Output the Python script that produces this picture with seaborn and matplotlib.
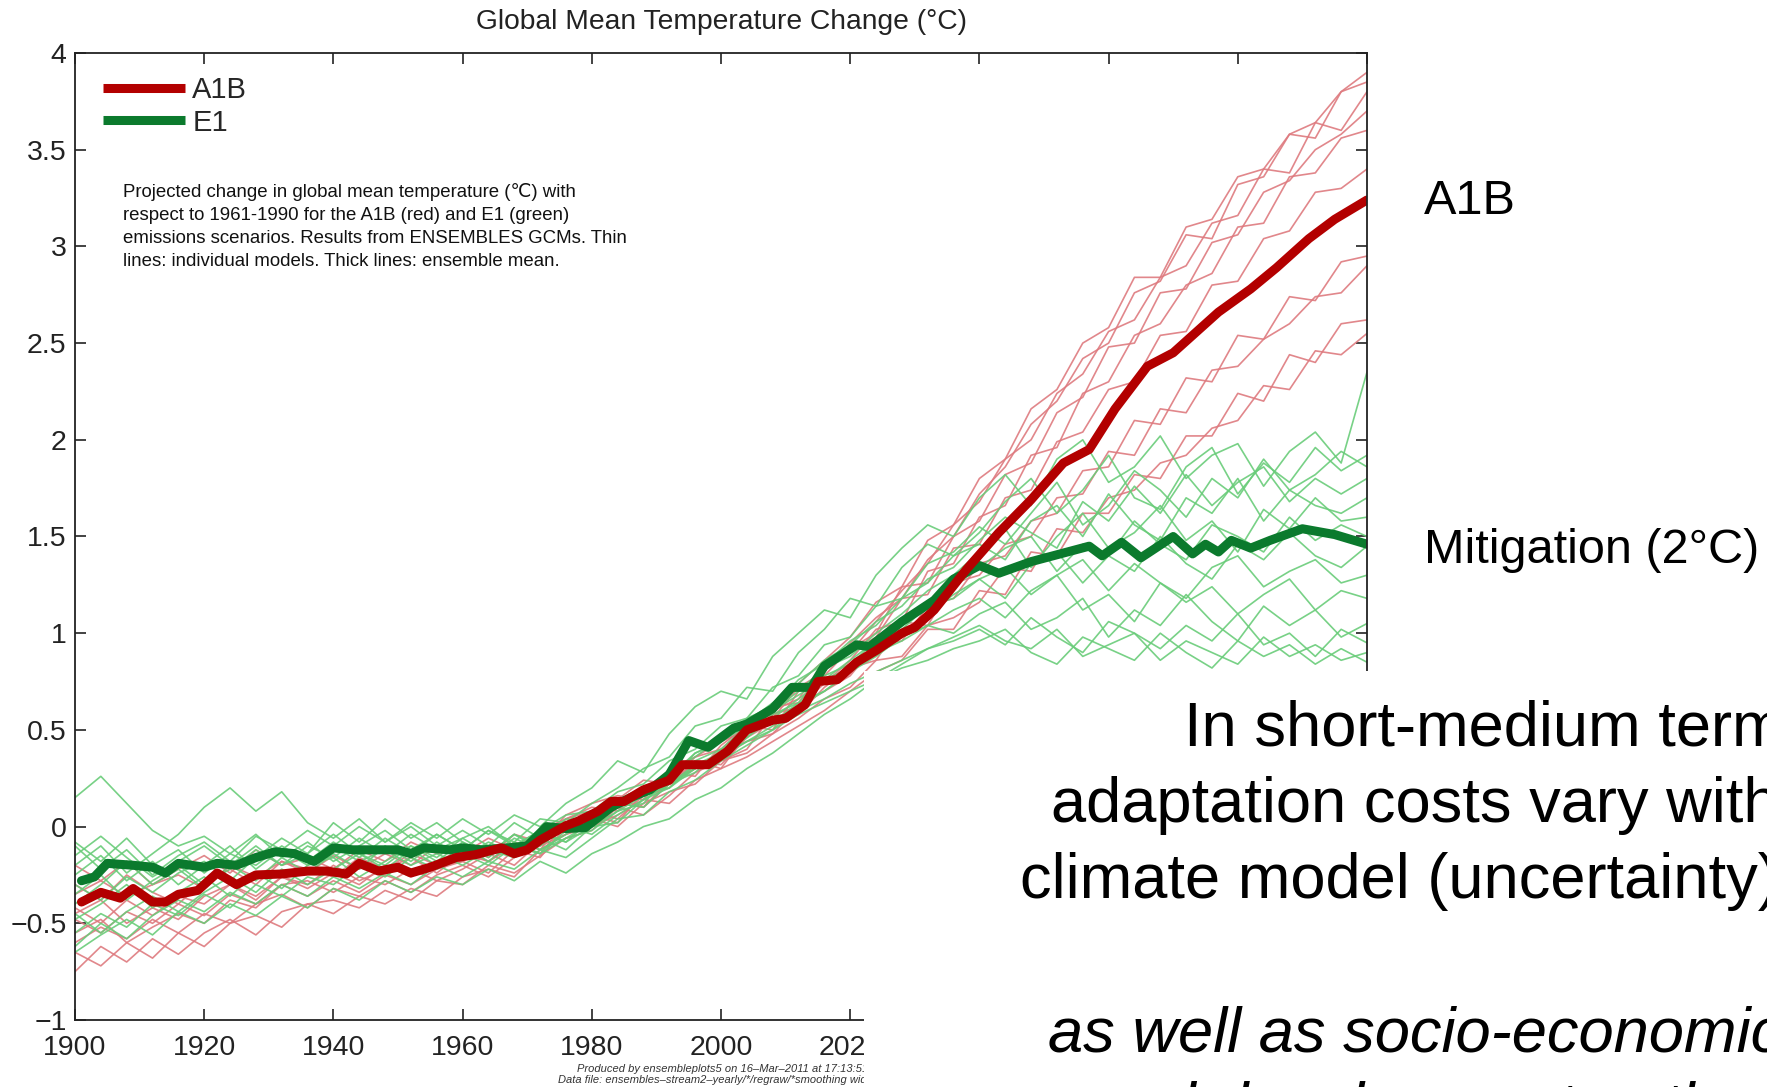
import numpy as np
import pandas as pd
import matplotlib
matplotlib.use("Agg")
import matplotlib.pyplot as plt
from matplotlib.patches import Rectangle
from matplotlib.lines import Line2D
import seaborn as sns

# ---------------- data ----------------
years_thin = list(range(1900, 2101, 4))  # 51 points

a1b_models = {
    "R1": [-0.75,-0.62,-0.70,-0.58,-0.66, -0.55,-0.48,-0.56,-0.44,-0.40, -0.45,-0.36,-0.40,-0.32,-0.36,
           -0.26,-0.22,-0.26,-0.12,-0.04, 0.02,0.12,0.10,0.24,0.30, 0.38,0.50,0.56,0.72,0.80,
           0.95,1.08,1.18,1.38,1.50, 1.72,1.86,2.08,2.20,2.42, 2.50,2.76,2.82,3.06,3.04,
           3.32,3.36,3.58,3.56,3.80, 3.90],
    "R2": [-0.55,-0.48,-0.60,-0.52,-0.45, -0.50,-0.38,-0.42,-0.30,-0.36, -0.28,-0.34,-0.25,-0.30,-0.22,
           -0.18,-0.24,-0.12,-0.16,0.00, 0.06,0.02,0.18,0.22,0.34, 0.30,0.48,0.60,0.66,0.84,
           0.90,1.06,1.22,1.36,1.56, 1.68,1.90,2.00,2.24,2.34, 2.56,2.62,2.84,2.90,3.12,
           3.16,3.40,3.38,3.64,3.60, 3.80],
    "R3": [-0.30,-0.38,-0.25,-0.34,-0.40, -0.28,-0.22,-0.30,-0.18,-0.24, -0.15,-0.22,-0.14,-0.20,-0.10,
           -0.14,-0.06,-0.12,-0.02,0.04, 0.10,0.08,0.20,0.28,0.26, 0.42,0.52,0.50,0.70,0.78,
           0.92,1.00,1.24,1.26,1.50, 1.58,1.82,1.88,2.14,2.22, 2.48,2.50,2.76,2.78,3.02,
           3.06,3.28,3.34,3.50,3.58, 3.70],
    "R4": [-0.65,-0.72,-0.60,-0.68,-0.55, -0.62,-0.50,-0.46,-0.52,-0.40, -0.38,-0.42,-0.33,-0.38,-0.28,
           -0.30,-0.20,-0.24,-0.15,-0.06, -0.02,0.10,0.06,0.16,0.28, 0.34,0.40,0.58,0.62,0.74,
           0.86,1.02,1.06,1.32,1.36, 1.60,1.66,1.92,1.96,2.24, 2.30,2.54,2.60,2.80,2.86,
           3.10,3.12,3.36,3.38,3.56, 3.60],
    "R5": [-0.20,-0.28,-0.18,-0.30,-0.22, -0.15,-0.24,-0.12,-0.20,-0.16, -0.22,-0.12,-0.18,-0.08,-0.14,
           -0.10,-0.16,-0.04,-0.08,0.06, 0.12,0.16,0.14,0.30,0.36, 0.44,0.50,0.62,0.64,0.82,
           0.90,0.98,1.18,1.20,1.44, 1.46,1.70,1.74,1.99,2.04, 2.26,2.30,2.54,2.56,2.80,
           2.82,3.04,3.08,3.28,3.30, 3.40],
    "R6": [-0.45,-0.38,-0.50,-0.42,-0.48, -0.36,-0.30,-0.38,-0.26,-0.32, -0.24,-0.30,-0.20,-0.26,-0.18,
           -0.12,-0.18,-0.10,-0.14,0.02, 0.04,0.14,0.10,0.22,0.30, 0.36,0.44,0.48,0.62,0.70,
           0.78,0.94,0.96,1.14,1.18, 1.36,1.40,1.58,1.62,1.84, 1.86,2.10,2.08,2.32,2.30,
           2.54,2.52,2.74,2.72,2.92, 2.95],
    "R7": [-0.35,-0.28,-0.36,-0.30,-0.25, -0.32,-0.20,-0.26,-0.18,-0.22, -0.26,-0.16,-0.22,-0.14,-0.20,
           -0.18,-0.10,-0.14,-0.06,0.00, 0.08,0.04,0.16,0.20,0.34, 0.32,0.46,0.54,0.58,0.72,
           0.82,0.86,1.06,1.04,1.26, 1.30,1.46,1.50,1.70,1.72, 1.94,1.92,2.16,2.14,2.36,
           2.38,2.52,2.60,2.74,2.76, 2.90],
    "R8": [-0.60,-0.52,-0.58,-0.48,-0.55, -0.45,-0.50,-0.40,-0.35,-0.42, -0.32,-0.36,-0.28,-0.34,-0.25,
           -0.20,-0.26,-0.16,-0.10,-0.04, 0.00,0.06,0.14,0.12,0.24, 0.30,0.36,0.44,0.52,0.60,
           0.70,0.80,0.86,1.02,1.02, 1.22,1.20,1.42,1.40,1.62, 1.62,1.82,1.80,2.02,2.02,
           2.24,2.20,2.44,2.40,2.60, 2.62],
    "R9": [-0.48,-0.55,-0.44,-0.50,-0.40, -0.46,-0.35,-0.40,-0.30,-0.28, -0.34,-0.26,-0.30,-0.22,-0.28,
           -0.22,-0.14,-0.20,-0.08,-0.02, 0.04,0.00,0.12,0.18,0.22, 0.34,0.38,0.48,0.56,0.66,
           0.72,0.86,0.88,1.04,1.08, 1.16,1.34,1.32,1.54,1.52, 1.70,1.74,1.88,1.92,2.06,
           2.10,2.28,2.26,2.46,2.44, 2.55],
    "R10": [-0.42,-0.50,-0.38,-0.46,-0.36, -0.40,-0.30,-0.36,-0.26,-0.30, -0.20,-0.28,-0.22,-0.16,-0.24,
            -0.14,-0.18,-0.08,-0.12,0.04, 0.08,0.14,0.24,0.22,0.36, 0.40,0.52,0.58,0.74,0.86,
            0.98,1.16,1.24,1.48,1.56, 1.80,1.90,2.16,2.26,2.50, 2.58,2.84,2.84,3.10,3.14,
            3.36,3.40,3.58,3.64,3.80, 3.85],
}

e1_models = {
    "G1": [-0.10,-0.22,-0.12,-0.25,-0.15, -0.08,-0.18,-0.05,-0.12,-0.02, -0.10,0.00,-0.08,0.02,-0.06,
           0.04,-0.04,0.06,0.00,0.12, 0.20,0.34,0.28,0.48,0.62, 0.70,0.66,0.88,1.00,1.12,
           1.08,1.30,1.44,1.56,1.50, 1.70,1.82,1.66,1.90,2.00, 1.78,1.86,2.02,1.80,1.92,
           1.98,1.76,1.94,2.04,1.88, 2.35],
    "G2": [0.15,0.26,0.12,-0.02,-0.10, -0.05,-0.14,-0.20,-0.10,-0.18, -0.08,-0.16,-0.06,-0.14,-0.04,
           -0.12,-0.02,-0.08,0.04,0.02, 0.12,0.20,0.30,0.36,0.52, 0.56,0.72,0.70,0.90,1.02,
           1.18,1.14,1.34,1.46,1.40, 1.52,1.68,1.80,1.62,1.74, 1.92,1.70,1.64,1.86,1.96,
           1.72,1.88,1.78,1.96,1.84, 1.92],
    "G3": [-0.35,-0.25,-0.38,-0.28,-0.20, -0.30,-0.22,-0.12,-0.20,-0.10, -0.16,-0.06,-0.14,-0.04,-0.12,
           -0.06,0.00,-0.10,-0.02,0.06, 0.08,0.18,0.22,0.34,0.40, 0.52,0.56,0.72,0.78,0.94,
           0.98,1.14,1.18,1.36,1.42, 1.55,1.46,1.62,1.78,1.56, 1.66,1.84,1.74,1.60,1.80,
           1.70,1.90,1.74,1.82,1.94, 1.86],
    "G4": [-0.55,-0.45,-0.52,-0.40,-0.46, -0.35,-0.42,-0.30,-0.36,-0.26, -0.30,-0.20,-0.26,-0.16,-0.22,
           -0.14,-0.20,-0.10,-0.14,-0.02, 0.04,0.10,0.20,0.24,0.38, 0.44,0.54,0.64,0.74,0.86,
           0.94,1.06,1.14,1.28,1.34, 1.48,1.60,1.52,1.44,1.68, 1.58,1.76,1.62,1.82,1.66,
           1.78,1.86,1.68,1.80,1.72, 1.80],
    "G5": [-0.20,-0.10,-0.24,-0.14,-0.04, 0.10,0.20,0.08,0.18,0.02, -0.06,0.04,-0.08,0.00,-0.10,
           -0.02,-0.10,0.02,-0.06,0.04, 0.02,0.14,0.16,0.28,0.36, 0.46,0.56,0.62,0.76,0.84,
           0.96,1.04,1.18,1.26,1.40, 1.46,1.38,1.58,1.66,1.50, 1.72,1.56,1.48,1.70,1.62,
           1.80,1.58,1.74,1.66,1.62, 1.70],
    "G6": [-0.40,-0.30,-0.18,-0.30,-0.22, -0.32,-0.20,-0.28,-0.16,-0.24, -0.14,-0.22,-0.10,-0.18,-0.08,
           -0.16,-0.08,-0.14,-0.04,-0.08, 0.00,0.08,0.12,0.26,0.34, 0.40,0.52,0.60,0.70,0.82,
           0.88,1.00,1.10,1.22,1.30, 1.42,1.54,1.34,1.50,1.62, 1.44,1.52,1.66,1.48,1.58,
           1.42,1.64,1.54,1.70,1.58, 1.60],
    "G7": [-0.30,-0.38,-0.26,-0.34,-0.24, -0.18,-0.28,-0.16,-0.06,-0.14, 0.02,-0.08,0.04,-0.06,0.02,
           -0.08,-0.14,-0.04,-0.10,0.00, -0.04,0.06,0.14,0.20,0.30, 0.38,0.46,0.56,0.66,0.76,
           0.86,0.96,1.06,1.16,1.24, 1.34,1.44,1.50,1.32,1.46, 1.40,1.58,1.46,1.38,1.56,
           1.50,1.42,1.60,1.48,1.56, 1.50],
    "G8": [-0.62,-0.50,-0.58,-0.46,-0.38, -0.44,-0.34,-0.40,-0.30,-0.36, -0.26,-0.32,-0.24,-0.30,-0.20,
           -0.26,-0.18,-0.22,-0.12,-0.16, -0.06,0.04,0.06,0.18,0.24, 0.34,0.42,0.50,0.62,0.70,
           0.80,0.90,1.00,1.10,1.20, 1.28,1.18,1.36,1.42,1.26, 1.40,1.32,1.50,1.36,1.28,
           1.46,1.38,1.52,1.40,1.34, 1.45],
    "G9": [-0.25,-0.15,-0.28,-0.18,-0.30, -0.20,-0.10,-0.22,-0.12,-0.20, -0.10,-0.18,-0.12,-0.20,-0.14,
           -0.20,-0.12,-0.16,-0.06,-0.12, 0.00,0.02,0.14,0.22,0.28, 0.40,0.46,0.58,0.64,0.78,
           0.84,0.96,1.02,1.14,1.18, 1.28,1.34,1.20,1.30,1.38, 1.22,1.36,1.26,1.18,1.34,
           1.40,1.24,1.32,1.38,1.26, 1.30],
    "G10": [-0.48,-0.40,-0.30,-0.42,-0.34, -0.26,-0.36,-0.24,-0.32,-0.20, -0.16,-0.26,-0.18,-0.10,-0.18,
            -0.08,-0.16,-0.06,-0.12,-0.04, 0.06,0.12,0.10,0.22,0.32, 0.36,0.48,0.54,0.64,0.70,
            0.80,0.88,0.98,1.04,1.12, 1.18,1.08,1.22,1.30,1.12, 1.20,1.06,1.26,1.16,1.24,
            1.10,1.20,1.28,1.12,1.22, 1.18],
    "G11": [-0.08,-0.18,-0.06,-0.20,-0.12, -0.24,-0.14,-0.04,-0.16,-0.08, -0.18,-0.10,-0.02,-0.12,-0.04,
            -0.12,-0.02,-0.10,-0.02,-0.08, 0.04,0.10,0.20,0.26,0.38, 0.44,0.52,0.60,0.68,0.76,
            0.82,0.90,0.96,1.04,1.00, 1.10,1.16,1.02,1.08,1.18, 0.98,1.12,1.04,1.20,1.06,
            0.96,1.14,1.04,1.12,0.98, 1.05],
    "G12": [-0.45,-0.55,-0.44,-0.36,-0.44, -0.34,-0.26,-0.34,-0.22,-0.30, -0.22,-0.14,-0.22,-0.12,-0.20,
            -0.10,-0.18,-0.08,-0.14,-0.06, -0.02,0.08,0.16,0.22,0.30, 0.36,0.44,0.52,0.60,0.66,
            0.74,0.80,0.86,0.92,0.96, 1.02,0.94,1.08,0.98,0.90, 1.06,1.00,0.92,1.04,0.96,
            1.10,0.94,1.00,0.88,1.02, 0.95],
    "G13": [-0.15,-0.05,-0.16,-0.26,-0.18, -0.10,-0.20,-0.10,-0.20,-0.14, -0.04,-0.14,-0.20,-0.10,-0.16,
            -0.06,-0.14,-0.04,-0.12,-0.06, 0.02,0.10,0.18,0.20,0.32, 0.38,0.44,0.50,0.58,0.64,
            0.70,0.76,0.82,0.86,0.92, 0.96,1.02,0.90,0.84,0.98, 0.92,0.86,1.00,0.90,0.82,
            0.96,0.88,0.94,0.84,0.92, 0.85],
    "G14": [-0.65,-0.56,-0.48,-0.56,-0.44, -0.50,-0.40,-0.46,-0.36,-0.42, -0.32,-0.38,-0.28,-0.34,-0.26,
            -0.30,-0.22,-0.28,-0.18,-0.24, -0.14,-0.08,0.00,0.04,0.14, 0.20,0.30,0.38,0.48,0.58,
            0.66,0.76,0.84,0.92,0.98, 1.04,0.96,0.92,1.02,0.88, 0.94,1.00,0.86,0.96,0.90,
            0.84,0.98,0.88,0.94,0.86, 0.90],
}

a1b_mean_years = [1901,1904,1907,1909,1912,1914,1916,1919,1922,1925,
                  1928,1932,1936,1939,1942,1944,1947,1950,1952,1955,
                  1959,1962,1966,1968,1970,1972,1976,1978,1981,1983,
                  1985,1988,1992,1994,1998,2001,2004,2008,2010,2013,
                  2015,2018,2021,2024,2028,2030,2033,2038,2043,2048,
                  2053,2057,2061,2066,2070,2077,2082,2086,2091,2095,
                  2100]
a1b_mean = [-0.39,-0.34,-0.37,-0.32,-0.39,-0.39,-0.35,-0.33,-0.24,-0.30,
            -0.25,-0.245,-0.23,-0.23,-0.245,-0.19,-0.23,-0.21,-0.24,-0.21,
            -0.16,-0.145,-0.11,-0.14,-0.12,-0.07,0.005,0.03,0.08,0.13,
            0.13,0.19,0.24,0.32,0.32,0.39,0.50,0.55,0.56,0.63,
            0.75,0.76,0.85,0.91,1.00,1.03,1.12,1.33,1.52,1.69,
            1.88,1.95,2.16,2.38,2.45,2.66,2.78,2.89,3.04,3.14,
            3.24]

e1_mean_years = [1901,1903,1905,1909,1912,1914,1916,1920,1922,1925,
                 1928,1931,1934,1937,1940,1943,1946,1950,1952,1954,
                 1958,1960,1963,1967,1970,1973,1976,1979,1983,1986,
                 1989,1992,1995,1998,2002,2004,2008,2011,2014,2016,
                 2021,2023,2028,2033,2036,2040,2043,2048,2057,2059,
                 2062,2065,2070,2073,2075,2077,2079,2082,2085,2090,
                 2095,2100]
e1_mean = [-0.28,-0.26,-0.19,-0.20,-0.21,-0.24,-0.19,-0.21,-0.19,-0.20,
           -0.16,-0.13,-0.14,-0.18,-0.11,-0.12,-0.12,-0.12,-0.14,-0.11,
           -0.12,-0.11,-0.12,-0.11,-0.10,0.00,-0.01,-0.005,0.10,0.15,
           0.19,0.27,0.445,0.41,0.51,0.53,0.61,0.72,0.72,0.83,
           0.94,0.93,1.06,1.17,1.28,1.35,1.31,1.37,1.45,1.40,
           1.47,1.39,1.50,1.41,1.46,1.42,1.48,1.44,1.48,1.54,
           1.51,1.46]

scenarios = ["A1B", "E1"]
xticks = [1900, 1920, 1940, 1960, 1980, 2000, 2020, 2040, 2060, 2080, 2100]
xtick_labels = ["1900", "1920", "1940", "1960", "1980", "2000", "2020", "", "", "", ""]
yticks = [-1, -0.5, 0, 0.5, 1, 1.5, 2, 2.5, 3, 3.5, 4]
ytick_labels = ["\u22121", "\u22120.5", "0", "0.5", "1", "1.5", "2", "2.5", "3", "3.5", "4"]

title = "Global Mean Temperature Change (\u00b0C)"
note = ("Projected change in global mean temperature (\u2103) with\n"
        "respect to 1961-1990 for the A1B (red) and E1 (green)\n"
        "emissions scenarios. Results from ENSEMBLES GCMs. Thin\n"
        "lines: individual models. Thick lines: ensemble mean.")
footer1 = "Produced by ensembleplots5 on 16\u2013Mar\u20132011 at 17:13:51"
footer2 = "Data file: ensembles\u2013stream2\u2013yearly/*/regraw/*smoothing width"
side_labels = ["A1B", "Mitigation (2\u00b0C)"]
slide_lines = ["In short-medium term", "adaptation costs vary with",
               "climate model (uncertainty)"]
slide_italic = ["as well as socio-economic", "and development pathways"]

# ---------------- build tables ----------------
rows = []
for name, vals in a1b_models.items():
    for y, v in zip(years_thin, vals):
        rows.append(("A1B", name, y, v))
for name, vals in e1_models.items():
    for y, v in zip(years_thin, vals):
        rows.append(("E1", name, y, v))
thin = pd.DataFrame(rows, columns=["scenario", "model", "year", "temp"])
mean_a1b = pd.DataFrame({"year": a1b_mean_years, "temp": a1b_mean})
mean_e1 = pd.DataFrame({"year": e1_mean_years, "temp": e1_mean})

# ---------------- style ----------------
sns.set_style("ticks")
plt.rcParams["font.family"] = ["Liberation Sans", "DejaVu Sans"]
plt.rcParams["axes.unicode_minus"] = True

W, H = 1767, 1087
fig = plt.figure(figsize=(W / 100, H / 100), dpi=100)
ax = fig.add_axes([75 / W, 1 - 1020 / H, (1367 - 75) / W, (1020 - 53) / H])

def fx(px):
    return px / W

def fy(py):
    return 1 - py / H

thin_red = "#de7a7f"
thin_green = "#69cc79"
thick_red = "#b30000"
thick_green = "#0b7a2d"

sns.lineplot(data=thin[thin.scenario == "A1B"], x="year", y="temp", units="model",
             estimator=None, color=thin_red, lw=1.2, alpha=0.9, ax=ax, legend=False)
sns.lineplot(data=thin[thin.scenario == "E1"], x="year", y="temp", units="model",
             estimator=None, color=thin_green, lw=1.2, alpha=0.9, ax=ax, legend=False)
sns.lineplot(data=mean_e1, x="year", y="temp", color=thick_green, lw=6.5, ax=ax,
             estimator=None, legend=False, solid_joinstyle="round")
sns.lineplot(data=mean_a1b, x="year", y="temp", color=thick_red, lw=6.5, ax=ax,
             estimator=None, legend=False, solid_joinstyle="round")

ax.set_xlim(1900, 2100)
ax.set_ylim(-1, 4)
ax.set_xticks(xticks)
ax.set_xticklabels(xtick_labels)
ax.set_yticks(yticks)
ax.set_yticklabels(ytick_labels)
ax.set_xlabel("")
ax.set_ylabel("")
ax.tick_params(direction="in", length=8, width=1.2, top=True, right=True,
               labelsize=20.5, colors="#222222", pad=6)
ax.tick_params(axis="x", pad=11)
for sp in ax.spines.values():
    sp.set_visible(True)
    sp.set_linewidth(1.3)
    sp.set_color("#222222")
ax.set_title(title, fontsize=20.3, pad=17, color="#222222")

handles = [Line2D([0], [0], color=thick_red, lw=6.5, solid_capstyle="butt"),
           Line2D([0], [0], color=thick_green, lw=6.5, solid_capstyle="butt")]
ax.legend(handles, scenarios, loc="upper left", bbox_to_anchor=(0.022, 0.976),
          frameon=False, fontsize=21, handlelength=2.8, handletextpad=0.25,
          labelspacing=0.15, borderpad=0, borderaxespad=0)

fig.text(fx(123), fy(183), note, fontsize=13.4, ha="left", va="top",
         linespacing=1.45, color="#111111")
fig.text(fx(868), fy(1072), footer1, fontsize=8, style="italic", ha="right",
         va="baseline", color="#333333")
fig.text(fx(876), fy(1083), footer2, fontsize=8, style="italic", ha="right",
         va="baseline", color="#333333")

# white slide panel covering the lower right
fig.add_artist(Rectangle((fx(864), 0), 1 - fx(864), fy(671), transform=fig.transFigure,
                         facecolor="white", edgecolor="none", zorder=10))

fig.text(fx(1424), fy(214), side_labels[0], fontsize=35, ha="left", va="baseline",
         color="black", zorder=11)
fig.text(fx(1424), fy(563), side_labels[1], fontsize=35, ha="left", va="baseline",
         color="black", zorder=11)

for txt, x0, y0 in zip(slide_lines, [1184, 1051, 1020], [746, 822, 898]):
    fig.text(fx(x0), fy(y0), txt, fontsize=45.5, ha="left", va="baseline",
             color="black", zorder=11)
for txt, x0, y0 in zip(slide_italic, [1048, 1090], [1051, 1127]):
    fig.text(fx(x0), fy(y0), txt, fontsize=45.5, style="italic", ha="left",
             va="baseline", color="black", zorder=11)

fig.savefig("out.png", dpi=100, facecolor="white")
